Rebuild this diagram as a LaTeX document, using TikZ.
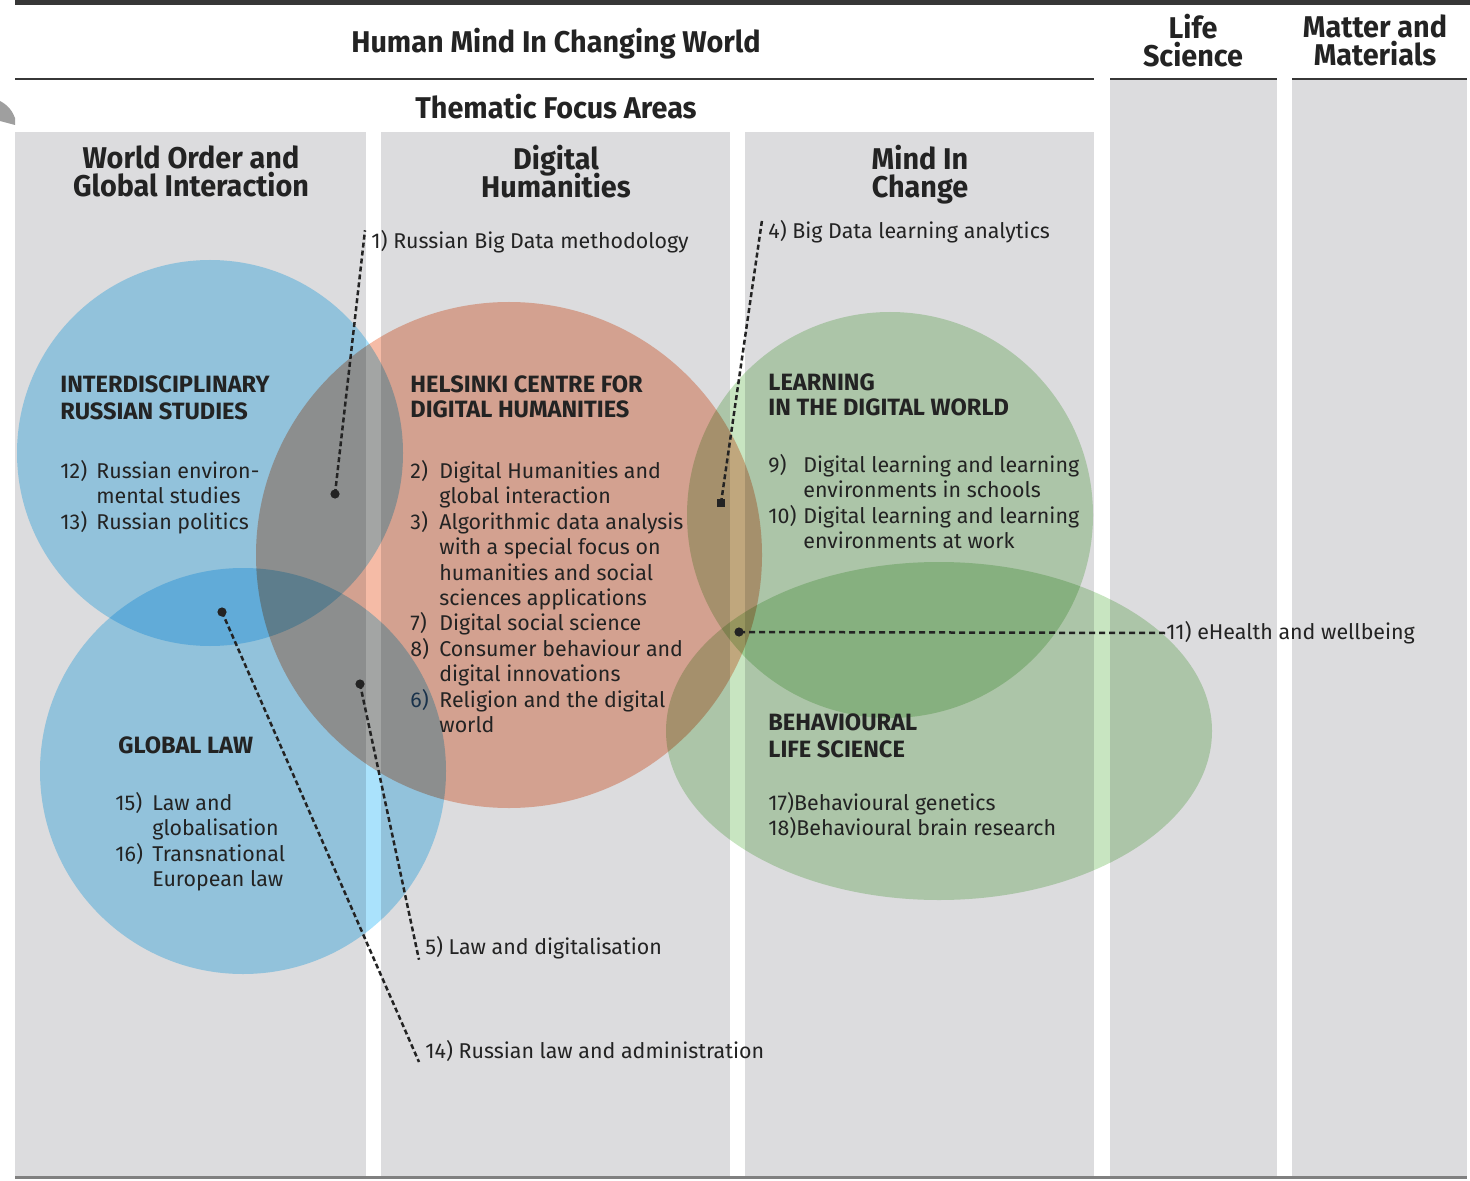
\documentclass[tikz,border=0pt]{standalone}
\usepackage{fontspec}
\setmainfont{Fira Sans}
\newfontfamily\headfont[FakeStretch=0.96]{Fira Sans}
\usetikzlibrary{positioning}
\definecolor{colgrey}{RGB}{220,220,222}
\definecolor{ink}{RGB}{35,35,35}
\definecolor{rulegrey}{RGB}{55,55,55}
\definecolor{russblue}{RGB}{170,226,252}
\definecolor{hcdhorange}{RGB}{245,187,166}
\definecolor{learngreen}{RGB}{200,229,193}
\definecolor{sixblue}{RGB}{25,50,75}
\newcommand{\nb}[2]{\makebox[#1][l]{#2}}
\newcommand{\tightlines}{\lineskiplimit=-20pt\lineskip=0pt}
\tikzset{
  col/.style={fill=colgrey, draw=none},
  bubble/.style={blend mode=multiply, draw=none},
  headtxt/.style={font=\headfont\bfseries\fontsize{15}{14}\selectfont\tightlines, text=ink, align=center, inner sep=0pt, anchor=north},
  titletxt/.style={font=\bfseries\fontsize{11.8}{13}\selectfont\tightlines, text=ink, align=left, anchor=north west, inner sep=0pt},
  itemtxt/.style={font=\fontsize{10.7}{12.7}\selectfont, text=ink, align=left, anchor=north west, inner sep=0pt},
  labtxt/.style={font=\fontsize{10.7}{12.7}\selectfont, text=ink, anchor=west, inner sep=0pt},
  leader/.style={dash pattern=on 2.5pt off 1.5pt, line width=1.25pt, ink},
  tipdot/.style={circle, fill=ink, inner sep=0pt, minimum size=4.6pt},
  tipsq/.style={rectangle, fill=ink, inner sep=0pt, minimum size=4pt},
}
\begin{document}
\begin{tikzpicture}[x=0.5pt,y=-0.5pt]
\useasboundingbox (0,0) rectangle (1470,1181);
% grey columns
\fill[col] (15,132) rectangle (366,1176);
\fill[col] (381,132) rectangle (730,1176);
\fill[col] (745,132) rectangle (1094,1176);
\fill[col] (1110,80) rectangle (1277,1176);
\fill[col] (1292,80) rectangle (1467,1176);
\fill[gray!75] (0,101) .. controls (8,105) and (13,112) .. (15,118) -- (15,125) -- (0,121) -- cycle;
% rules
\draw[rulegrey, line width=2.5pt] (15,2.5) -- (1470,2.5);
\draw[rulegrey, line width=1.3pt] (15,79) -- (1094,79);
\draw[rulegrey, line width=1.3pt] (1110,79) -- (1277,79);
\draw[rulegrey, line width=1.3pt] (1292,79) -- (1467,79);
\draw[gray, line width=1.5pt] (15,1177.5) -- (1467,1177.5);
% bubbles
\fill[bubble, russblue] (210,453) circle [radius=193];
\fill[bubble, russblue] (243,771) circle [radius=203];
\fill[bubble, hcdhorange] (509,555) circle [radius=253];
\fill[bubble, learngreen] (890,515) circle [radius=203];
\fill[bubble, learngreen] (939,731) ellipse [x radius=273, y radius=169];
% headers
\node[headtxt] (hmcw) at (556,28) {Human Mind In Changing World};
\node[headtxt] (life) at (1193,14) {Life\\Science};
\node[headtxt] (matter) at (1375,14) {Matter and\\Materials};
\node[headtxt] (tfa) at (556,94) {Thematic Focus Areas};
\node[headtxt] (woag) at (191,145) {World Order and\\Global Interaction};
\node[headtxt] (dh) at (556,145) {Digital\\Humanities};
\node[headtxt] (mic) at (920,145) {Mind In\\Change};
% bubble titles
\node[titletxt, font=\bfseries\fontsize{11.8}{13.5}\selectfont\tightlines] (irs) at (60,375) {INTERDISCIPLINARY\\RUSSIAN STUDIES};
\node[titletxt, font=\bfseries\fontsize{11.8}{12.5}\selectfont\tightlines] (hcdh) at (410,375) {HELSINKI CENTRE FOR\\DIGITAL HUMANITIES};
\node[titletxt, font=\bfseries\fontsize{11.8}{12.5}\selectfont\tightlines] (ldw) at (768,373) {LEARNING\\IN THE DIGITAL WORLD};
\node[titletxt, font=\bfseries\fontsize{11.8}{13.5}\selectfont\tightlines] (bls) at (768,713) {BEHAVIOURAL\\LIFE SCIENCE};
\node[titletxt] (glaw) at (118,736) {GLOBAL LAW};
% bubble items
\node[itemtxt] (irsitems) at (60,460) {\nb{18pt}{12)}Russian environ-\\\hspace*{18pt}mental studies\\\nb{18pt}{13)}Russian politics};
\node[itemtxt] (hcdhitems) at (410,460) {\nb{14.5pt}{2)}Digital Humanities and\\\hspace*{14.5pt}global interaction\\
\nb{14.5pt}{3)}Algorithmic data analysis\\\hspace*{14.5pt}with a special focus on\\\hspace*{14.5pt}humanities and social\\\hspace*{14.5pt}sciences applications\\
\nb{14.5pt}{7)}Digital social science\\
\nb{14.5pt}{8)}Consumer behaviour and\\\hspace*{14.5pt}digital innovations\\
\nb{14.5pt}{\textcolor{sixblue}{6)}}Religion and the digital\\\hspace*{14.5pt}world};
\node[itemtxt] (ldwitems) at (768,454) {\nb{17.5pt}{9)}Digital learning and learning\\\hspace*{17.5pt}environments in schools\\
\nb{17.5pt}{10)}Digital learning and learning\\\hspace*{17.5pt}environments at work};
\node[itemtxt] (blsitems) at (768,792) {17)Behavioural genetics\\18)Behavioural brain research};
\node[itemtxt] (glawitems) at (115,792) {\nb{18.5pt}{15)}Law and\\\hspace*{18.5pt}globalisation\\
\nb{18.5pt}{16)}Transnational\\\hspace*{18.5pt}European law};
% leader labels
\node[labtxt] (l1) at (371,242) {1) Russian Big Data methodology};
\node[labtxt] (l4) at (768,232) {4) Big Data learning analytics};
\node[labtxt] (l11) at (1166,633) {11) eHealth and wellbeing};
\node[labtxt] (l5) at (425,948) {5) Law and digitalisation};
\node[labtxt] (l14) at (425,1051) {14) Russian law and administration};
% leader tips
\node[tipdot] (d1) at (335,494) {};
\node[tipsq] (d4) at (721,503) {};
\node[tipdot] (d11) at (739,632) {};
\node[tipdot] (d5) at (360,684) {};
\node[tipdot] (d14) at (222,612) {};
% leaders
\draw[leader] (d1.center) -- ([xshift=-3pt]l1.north west);
\draw[leader] (d4.center) -- ([xshift=-3pt]l4.north west);
\draw[leader, dash pattern=on 3pt off 2pt] (d11.center) -- (l11.west);
\draw[leader] (d5.center) -- ([xshift=-3pt]l5.south west);
\draw[leader] (d14.center) -- ([xshift=-3pt]l14.south west);
\end{tikzpicture}
\end{document}
